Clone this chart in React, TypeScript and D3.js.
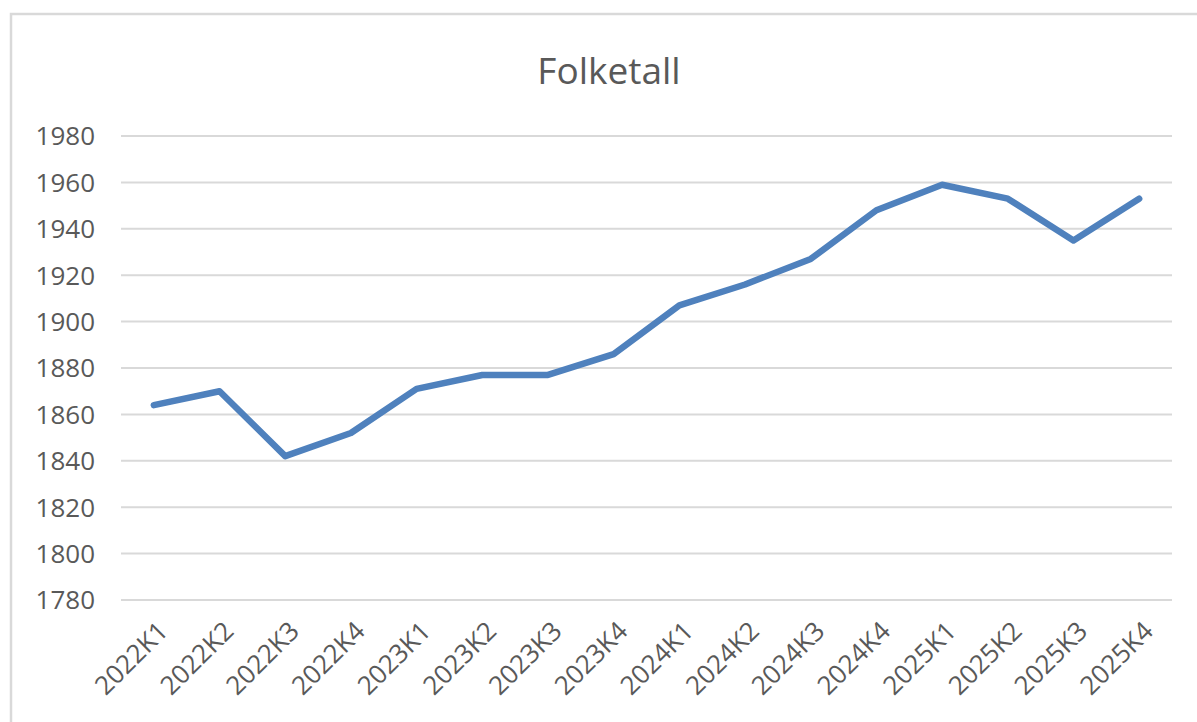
import React, { useEffect, useRef } from "react";
import * as d3 from "d3";

const quarters = [
  "2022K1", "2022K2", "2022K3", "2022K4",
  "2023K1", "2023K2", "2023K3", "2023K4",
  "2024K1", "2024K2", "2024K3", "2024K4",
  "2025K1", "2025K2", "2025K3", "2025K4",
];

const folketall = [
  1864, 1870, 1842, 1852,
  1871, 1877, 1877, 1886,
  1907, 1916, 1927, 1948,
  1959, 1953, 1935, 1953,
];

const yTicks = [1780, 1800, 1820, 1840, 1860, 1880, 1900, 1920, 1940, 1960, 1980];

const title = "Folketall";

export default function App() {
  const svgRef = useRef<SVGSVGElement | null>(null);

  useEffect(() => {
    const width = 1197;
    const height = 722;
    const margin = { top: 136, right: 25, bottom: 122, left: 121 };
    const font = "'Open Sans', 'Noto Sans', sans-serif";
    const textColor = "#595959";

    const svg = d3.select(svgRef.current);
    svg.selectAll("*").remove();
    svg.attr("width", width).attr("height", height);

    svg.append("rect")
      .attr("x", 0).attr("y", 0)
      .attr("width", width).attr("height", height)
      .attr("fill", "#ffffff");

    // chart frame
    svg.append("rect")
      .attr("x", 11).attr("y", 14)
      .attr("width", width + 20).attr("height", height + 20)
      .attr("fill", "none")
      .attr("stroke", "#d9d9d9")
      .attr("stroke-width", 2.5);

    const x = d3.scaleBand()
      .domain(quarters)
      .range([margin.left, width - margin.right]);

    const y = d3.scaleLinear()
      .domain([1780, 1980])
      .range([height - margin.bottom, margin.top]);

    svg.append("text")
      .attr("x", 609)
      .attr("y", 84)
      .attr("text-anchor", "middle")
      .style("font-family", font)
      .style("font-size", "37px")
      .style("fill", textColor)
      .text(title);

    // gridlines
    svg.append("g")
      .selectAll("line")
      .data(yTicks)
      .join("line")
      .attr("x1", margin.left)
      .attr("x2", width - margin.right)
      .attr("y1", (d) => y(d))
      .attr("y2", (d) => y(d))
      .attr("stroke", "#d9d9d9")
      .attr("stroke-width", 2);

    // y labels
    svg.append("g")
      .selectAll("text")
      .data(yTicks)
      .join("text")
      .attr("x", 95)
      .attr("y", (d) => y(d))
      .attr("dy", "0.36em")
      .attr("text-anchor", "end")
      .style("font-family", font)
      .style("font-size", "26px")
      .style("fill", textColor)
      .text((d) => d);

    // x labels
    svg.append("g")
      .selectAll("text")
      .data(quarters)
      .join("text")
      .attr("transform", (d) => {
        const cx = (x(d) as number) + x.bandwidth() / 2 + 9;
        return `translate(${cx},${height - margin.bottom + 26}) rotate(-45)`;
      })
      .attr("text-anchor", "end")
      .attr("dy", "0.36em")
      .style("font-family", font)
      .style("font-size", "26px")
      .style("fill", textColor)
      .text((d) => d);

    const line = d3.line<number>()
      .x((_, i) => (x(quarters[i]) as number) + x.bandwidth() / 2)
      .y((d) => y(d));

    svg.append("path")
      .datum(folketall)
      .attr("d", line)
      .attr("fill", "none")
      .attr("stroke", "#4f81bd")
      .attr("stroke-width", 6.5)
      .attr("stroke-linejoin", "round")
      .attr("stroke-linecap", "round");
  }, []);

  return (
    <div style={{ position: "absolute", left: 0, top: 0, width: 1197, height: 722, overflow: "hidden" }}>
      <svg ref={svgRef}></svg>
    </div>
  );
}
